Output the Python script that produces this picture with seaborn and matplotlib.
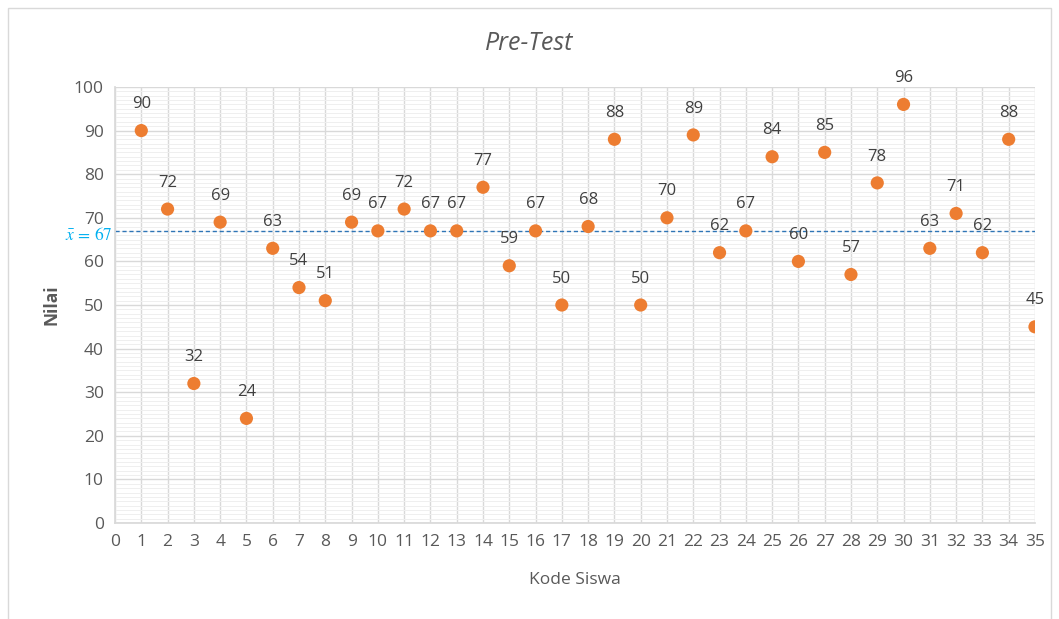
import matplotlib
matplotlib.use("Agg")
import matplotlib.pyplot as plt
import seaborn as sns
import pandas as pd
import numpy as np
from matplotlib.ticker import MultipleLocator
from matplotlib.patches import Rectangle

kode = list(range(1, 36))
nilai = [90, 72, 32, 69, 24, 63, 54, 51, 69, 67, 72, 67, 67, 77, 59, 67, 50, 68, 88, 50,
         70, 89, 62, 67, 84, 60, 85, 57, 78, 96, 63, 71, 62, 88, 45]
mean_val = 67

sns.set_theme(style="white")
plt.rcParams['font.family'] = ['Open Sans', 'DejaVu Sans']
plt.rcParams['mathtext.fontset'] = 'stix'

df = pd.DataFrame({"Kode Siswa": kode, "Nilai": nilai})

fig = plt.figure(figsize=(10.59, 6.19), dpi=100)
ax = fig.add_axes([0.1086, 0.155, 0.8687, 0.7045])

grey = "#595959"
ax.set_xlim(0, 35)
ax.set_ylim(0, 100)
ax.xaxis.set_major_locator(MultipleLocator(1))
ax.yaxis.set_major_locator(MultipleLocator(10))
ax.yaxis.set_minor_locator(MultipleLocator(1))
ax.grid(which="major", axis="both", color="#d9d9d9", linewidth=1.0)
ax.grid(which="minor", axis="y", color="#efefef", linewidth=0.7)
ax.set_axisbelow(True)
for s in ax.spines.values():
    s.set_visible(False)
ax.spines["bottom"].set_visible(True)
ax.spines["bottom"].set_color("#d9d9d9")
ax.spines["left"].set_visible(True)
ax.spines["left"].set_color("#d9d9d9")

ax.axhline(mean_val, color="#2E75B6", linestyle=(0, (3, 2)), linewidth=1.0, zorder=2)

sns.scatterplot(data=df, x="Kode Siswa", y="Nilai", ax=ax, color="#ED7D31", s=90,
                edgecolor="none", zorder=3)

for x, y in zip(kode, nilai):
    ax.annotate(str(y), (x, y), xytext=(0, 19), textcoords="offset points",
                ha="center", va="center", fontsize=12, color="#404040")

ax.annotate(r"$\bar{x}\,=\,67$", (0, mean_val), xytext=(-2, -3), textcoords="offset points",
            ha="right", va="center", fontsize=12.5, color="#00B0F0", annotation_clip=False)

ax.tick_params(axis="both", which="both", length=0, labelsize=12.5, labelcolor=grey, pad=8)
ax.set_xlabel("Kode Siswa", fontsize=12.5, color=grey, labelpad=16)
ax.set_ylabel("Nilai", fontsize=12.5, color=grey, fontweight="bold", labelpad=10)
fig.text(0.5, 0.929, "Pre-Test", ha="center", va="center", fontsize=18,
         style="italic", color=grey)

fig.patches.append(Rectangle((0.0075, -0.02), 0.985, 1.0065, transform=fig.transFigure,
                             fill=False, edgecolor="#d9d9d9", linewidth=1.0))

fig.savefig("out.png", dpi=100)
